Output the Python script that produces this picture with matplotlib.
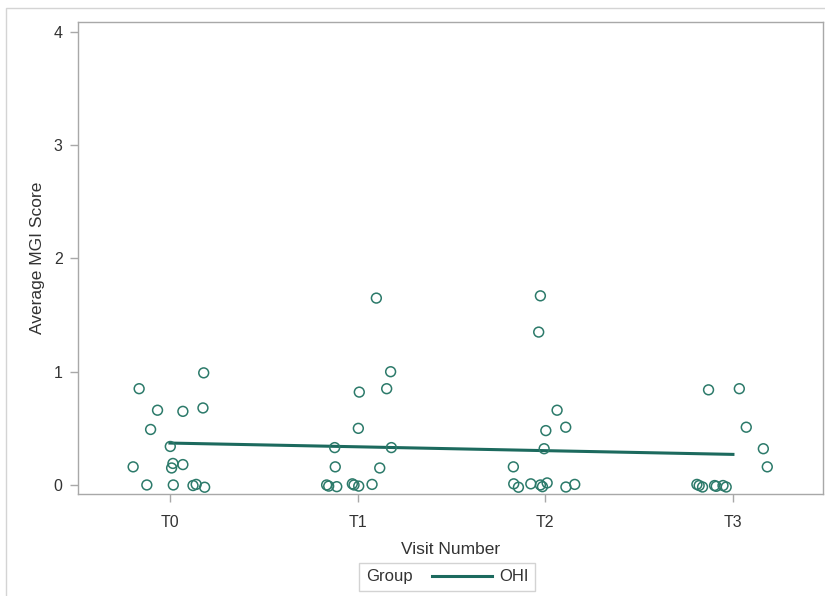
import matplotlib
matplotlib.use('Agg')
import matplotlib.pyplot as plt
from matplotlib.lines import Line2D
from matplotlib.patches import Rectangle
from matplotlib.offsetbox import HPacker

plt.rcParams['font.family'] = ['Liberation Sans', 'DejaVu Sans']

visits = ['T0', 'T1', 'T2', 'T3']

# per-subject scores at each visit, with the horizontal jitter used in the plot
t0_jitter = [-0.164, 0.18, -0.066, 0.069, 0.176, -0.103, 0.002, -0.196,
             0.016, 0.009, 0.069, -0.123, 0.018, 0.123, 0.14, 0.185]
t0_score = [0.85, 0.99, 0.66, 0.65, 0.68, 0.49, 0.34, 0.16,
            0.19, 0.15, 0.18, 0.0, 0.0, -0.005, 0.005, -0.02]

t1_jitter = [0.10, 0.176, 0.009, 0.155, 0.004, -0.122, 0.18, -0.119,
             0.118, -0.165, -0.154, -0.111, -0.028, -0.019, 0.006, 0.077]
t1_score = [1.65, 1.0, 0.82, 0.85, 0.5, 0.33, 0.33, 0.16,
            0.15, 0.0, -0.01, -0.015, 0.01, 0.0, -0.01, 0.005]

t2_jitter = [-0.026, -0.035, 0.063, 0.003, 0.109, -0.006, -0.17, -0.168,
             -0.143, -0.077, -0.026, -0.015, 0.01, 0.11, 0.157]
t2_score = [1.67, 1.35, 0.66, 0.48, 0.51, 0.32, 0.16, 0.01,
            -0.02, 0.01, 0.0, -0.015, 0.018, -0.018, 0.005]

t3_jitter = [-0.13, 0.034, 0.071, 0.162, 0.183, -0.192, -0.18, -0.162,
             -0.098, -0.089, -0.053, -0.036]
t3_score = [0.84, 0.85, 0.51, 0.32, 0.16, 0.005, -0.005, -0.018,
            -0.005, -0.012, -0.005, -0.018]

# fitted trend for the OHI group
fit_score = [0.37, 0.337, 0.303, 0.27]

jitters = [t0_jitter, t1_jitter, t2_jitter, t3_jitter]
scores = [t0_score, t1_score, t2_score, t3_score]

mark_col = '#2c7a6a'
line_col = '#1c6a5e'
frame_col = '#a8a8a8'
text_col = '#333333'

fig = plt.figure(figsize=(8.25, 5.96), dpi=100)
ax = fig.add_axes([0.0945, 0.1711, 0.9031, 0.792])

for i, (jit, sc) in enumerate(zip(jitters, scores)):
    ax.scatter([i + j for j in jit], sc, s=50, facecolors='none',
               edgecolors=mark_col, linewidths=1.1, zorder=3)

ax.plot(range(len(visits)), fit_score, color=line_col, lw=2.2, zorder=2)

ax.set_xlim(-0.49, 3.48)
ax.set_ylim(-0.08, 4.088)
ax.set_xticks(range(len(visits)))
ax.set_xticklabels(visits)
ax.set_yticks([0, 1, 2, 3, 4])

for s in ax.spines.values():
    s.set_color(frame_col)
    s.set_linewidth(1.0)
ax.tick_params(colors=frame_col, labelcolor=text_col, labelsize=11.5,
               length=6, width=1.0)
ax.tick_params(axis='x', pad=9)
ax.tick_params(axis='y', pad=5)

ax.set_xlabel('Visit Number', fontsize=12.5, color=text_col, labelpad=9)
ax.set_ylabel('Average MGI Score', fontsize=12.5, color=text_col, labelpad=6)

# outer frame around the whole graph
fig.patches.append(Rectangle((0.0073, -0.05), 1.1, 0.9866 + 0.05,
                             transform=fig.transFigure, fill=False,
                             edgecolor='#d4d4d4', lw=1.0))

handle = Line2D([], [], color=line_col, lw=2.2)
leg = fig.legend([handle], ['OHI'], title='Group', loc='center',
                 bbox_to_anchor=(0.542, 0.0319), frameon=True, fancybox=False,
                 edgecolor='#c8c8c8', fontsize=12, title_fontsize=12,
                 handlelength=3.6, handletextpad=0.4, borderpad=0.4)
# put the title beside the entries instead of above
old = leg._legend_box
leg._legend_box = HPacker(pad=old.pad, sep=14, align='center',
                          children=[leg._legend_title_box, leg._legend_handle_box])
leg._legend_box.set_figure(fig)
leg._legend_box.set_offset(leg._findoffset)
leg.get_title().set_color(text_col)
for t in leg.get_texts():
    t.set_color(text_col)

fig.savefig('out.png', dpi=100)
